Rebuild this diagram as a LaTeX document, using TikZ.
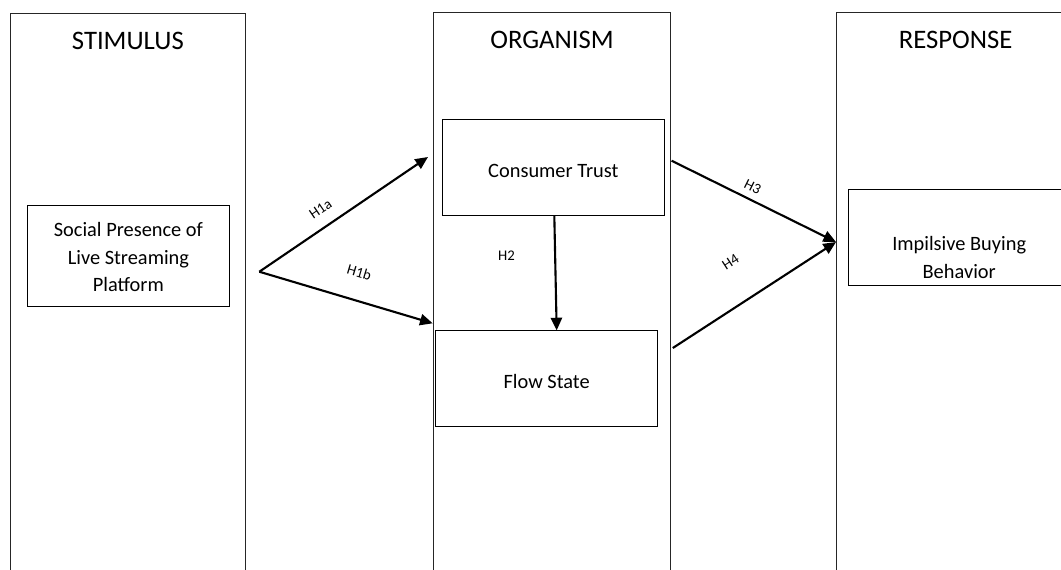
\documentclass[tikz,border=0pt]{standalone}
\usepackage{fontspec}
\setmainfont{Carlito}
\usetikzlibrary{arrows.meta,calc}
\newcommand{\boxtext}[2][.12cm]{\raisebox{-#1}[\height][\depth]{\begin{tabular}{@{}c@{}}#2\end{tabular}}}

\begin{document}
\begin{tikzpicture}[
      lane/.style={draw=black!85,line width=.6pt,inner sep=0pt,
        minimum width=5.92cm,minimum height=14.7cm},
      head/.style={font=\fontsize{19}{23}\selectfont,inner sep=1pt},
      factor/.style={draw,line width=.6pt,align=center,inner sep=2pt,
        minimum width=5.55cm,minimum height=2.4cm,
        font=\fontsize{14.5}{19.5}\selectfont},
      link/.style={line width=1.5pt,-{Triangle[length=9pt,width=8pt]}},
      hyp/.style={font=\fontsize{10.5}{12}\selectfont,inner sep=1pt}
    ]
    \useasboundingbox (0,0) rectangle (26.525,-14.225);
    \clip (0,0) rectangle (26.525,-14.225);

    \node[lane,minimum width=5.89cm] (stimcol) at (3.196,-7.69) {};
    \node[lane] (orgcol) at (13.8,-7.66) {};
    \node[lane,minimum width=5.95cm] (respcol) at (23.89,-7.66) {};

    \node[head] (stimhead) at ([yshift=-.69cm]stimcol.north) {STIMULUS};
    \node[head] (orghead) at ([yshift=-.69cm]orgcol.north) {ORGANISM};
    \node[head] (resphead) at ([yshift=-.7cm]respcol.north) {RESPONSE};

    \node[factor,minimum width=5.05cm,minimum height=2.525cm] (social) at (3.21,-6.39)
      {\boxtext[.08cm]{Social Presence of\\Live Streaming\\Platform}};
    \node[factor,minimum height=2.41cm] (trust) at (13.833,-4.19) {\boxtext{Consumer Trust}};
    \node[factor,minimum height=2.38cm] (flow) at (13.667,-9.46) {\boxtext{Flow State}};
    \node[factor,minimum width=5.54cm,minimum height=2.39cm] (impulse) at (23.98,-5.93)
      {\boxtext[.55cm]{Impilsive Buying\\Behavior}};

    \coordinate (split) at (6.483,-6.793);
    \coordinate (trustin) at (10.7,-3.925);
    \coordinate (flowin) at (10.817,-8.083);
    \coordinate (trustout) at (16.79,-4.018);
    \coordinate (flowout) at (16.82,-8.7);
    \coordinate (impin) at (20.9,-6.05);

    \draw[link] (split) -- node[hyp,sloped,above=7pt,pos=.42] (h1a) {H1a} (trustin);
    \draw[link] (split) -- node[hyp,sloped,above=14.5pt,pos=.53] (h1b) {H1b} (flowin);
    \draw[link] ($(trust.south)+(.025,0)$) -- node[hyp,left=27pt,pos=.35] (h2) {H2}
      ($(flow.north)+(.25,0)$);
    \draw[link] (trustout) -- node[hyp,sloped,above=3.6pt,pos=.46] (h3) {H3} (impin);
    \draw[link] (flowout) -- node[hyp,sloped,above=24pt,pos=.49] (h4) {H4} (impin);
  \end{tikzpicture}
\end{document}
